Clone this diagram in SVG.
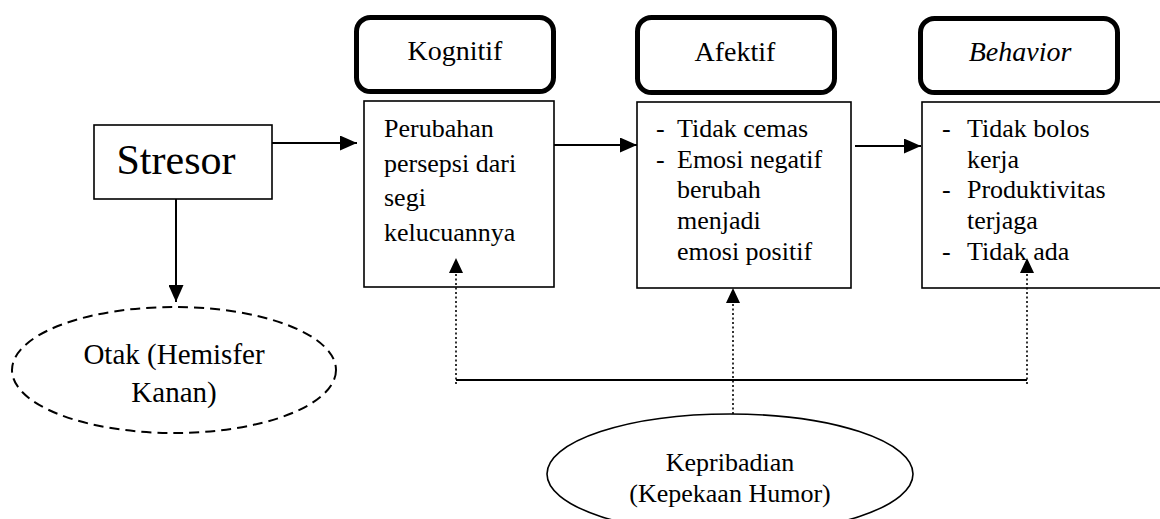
<svg xmlns="http://www.w3.org/2000/svg" width="1160" height="519" viewBox="0 0 1160 519">
<style>
text{font-family:"Liberation Serif","Times New Roman",serif;fill:#000}
.hdr{fill:#fff;stroke:#000;stroke-width:5}
.box{fill:#fff;stroke:#000;stroke-width:1.6}
.t26{font-size:26px}
.t28{font-size:28px}
.mid{text-anchor:middle}
.solid{stroke:#000;stroke-width:2;fill:none}
.dot{stroke:#000;stroke-width:1.6;stroke-dasharray:2 2.5;fill:none}
</style>
<defs>
<marker id="ah" markerUnits="userSpaceOnUse" markerWidth="17" markerHeight="15" refX="17" refY="7.5" orient="auto">
<path d="M0,0 L17,7.5 L0,15 z" fill="#000"/>
</marker>
<marker id="ahs" markerUnits="userSpaceOnUse" markerWidth="15" markerHeight="14" refX="15" refY="7" orient="auto">
<path d="M0,0 L15,7 L0,14 z" fill="#000"/>
</marker>
</defs>

<g id="stresor">
<rect class="box" x="94" y="125" width="178" height="74"/>
<text x="176" y="174" class="mid" style="font-size:42px">Stresor</text>
</g>

<g id="otak">
<ellipse cx="174" cy="370" rx="162" ry="63" fill="#fff" stroke="#000" stroke-width="2" stroke-dasharray="10 6"/>
<text x="174" y="364" class="mid" style="font-size:29px">Otak (Hemisfer</text>
<text x="174" y="402" class="mid" style="font-size:29px">Kanan)</text>
</g>

<g id="kognitif-header">
<rect class="hdr" x="356.5" y="17.5" width="197" height="74" rx="14"/>
<text x="455" y="60" class="mid t28">Kognitif</text>
</g>

<g id="kognitif-box">
<rect class="box" x="364" y="101" width="190" height="186"/>
<text class="t26" x="384" y="137">Perubahan</text>
<text class="t26" x="384" y="172">persepsi dari</text>
<text class="t26" x="384" y="206">segi</text>
<text class="t26" x="384" y="241">kelucuannya</text>
</g>

<g id="afektif-header">
<rect class="hdr" x="637.5" y="17.5" width="197" height="75" rx="14"/>
<text x="735" y="61" class="mid t28">Afektif</text>
</g>

<g id="afektif-box">
<rect class="box" x="637" y="102" width="214" height="186"/>
<text class="t26" x="656" y="137">-</text>
<text class="t26" x="677" y="137">Tidak cemas</text>
<text class="t26" x="656" y="168">-</text>
<text class="t26" x="677" y="168">Emosi negatif</text>
<text class="t26" x="677" y="198">berubah</text>
<text class="t26" x="677" y="229">menjadi</text>
<text class="t26" x="677" y="260">emosi positif</text>
</g>

<g id="behavior-header">
<rect class="hdr" x="920.5" y="18.5" width="197" height="74" rx="14"/>
<text x="1020" y="61" class="mid t28" font-style="italic">Behavior</text>
</g>

<g id="behavior-box">
<rect class="box" x="922" y="102" width="260" height="186"/>
<text class="t26" x="942" y="137">-</text>
<text class="t26" x="967" y="137">Tidak bolos</text>
<text class="t26" x="967" y="168">kerja</text>
<text class="t26" x="942" y="198">-</text>
<text class="t26" x="967" y="198">Produktivitas</text>
<text class="t26" x="967" y="229">terjaga</text>
<text class="t26" x="942" y="260">-</text>
<text class="t26" x="967" y="260">Tidak ada</text>
</g>

<g id="kepribadian">
<ellipse cx="730" cy="474" rx="183" ry="60" fill="#fff" stroke="#000" stroke-width="1.6"/>
<text x="730" y="471" class="mid t26">Kepribadian</text>
<text x="730" y="502" class="mid t26">(Kepekaan Humor)</text>
</g>

<g id="connectors">
<line class="solid" x1="272" y1="143" x2="357" y2="143" marker-end="url(#ah)"/>
<line class="solid" x1="176" y1="199" x2="176" y2="302" marker-end="url(#ah)"/>
<line class="solid" x1="554" y1="145" x2="637" y2="145" marker-end="url(#ah)"/>
<line class="solid" x1="855" y1="146" x2="921" y2="146" marker-end="url(#ah)"/>
<line class="solid" x1="456" y1="380" x2="1027" y2="380"/>
<line class="dot" x1="456" y1="384" x2="456" y2="258" marker-end="url(#ahs)"/>
<line class="dot" x1="1027" y1="384" x2="1027" y2="258" marker-end="url(#ahs)"/>
<line class="dot" x1="733" y1="414" x2="733" y2="288" marker-end="url(#ahs)"/>
</g>
</svg>
